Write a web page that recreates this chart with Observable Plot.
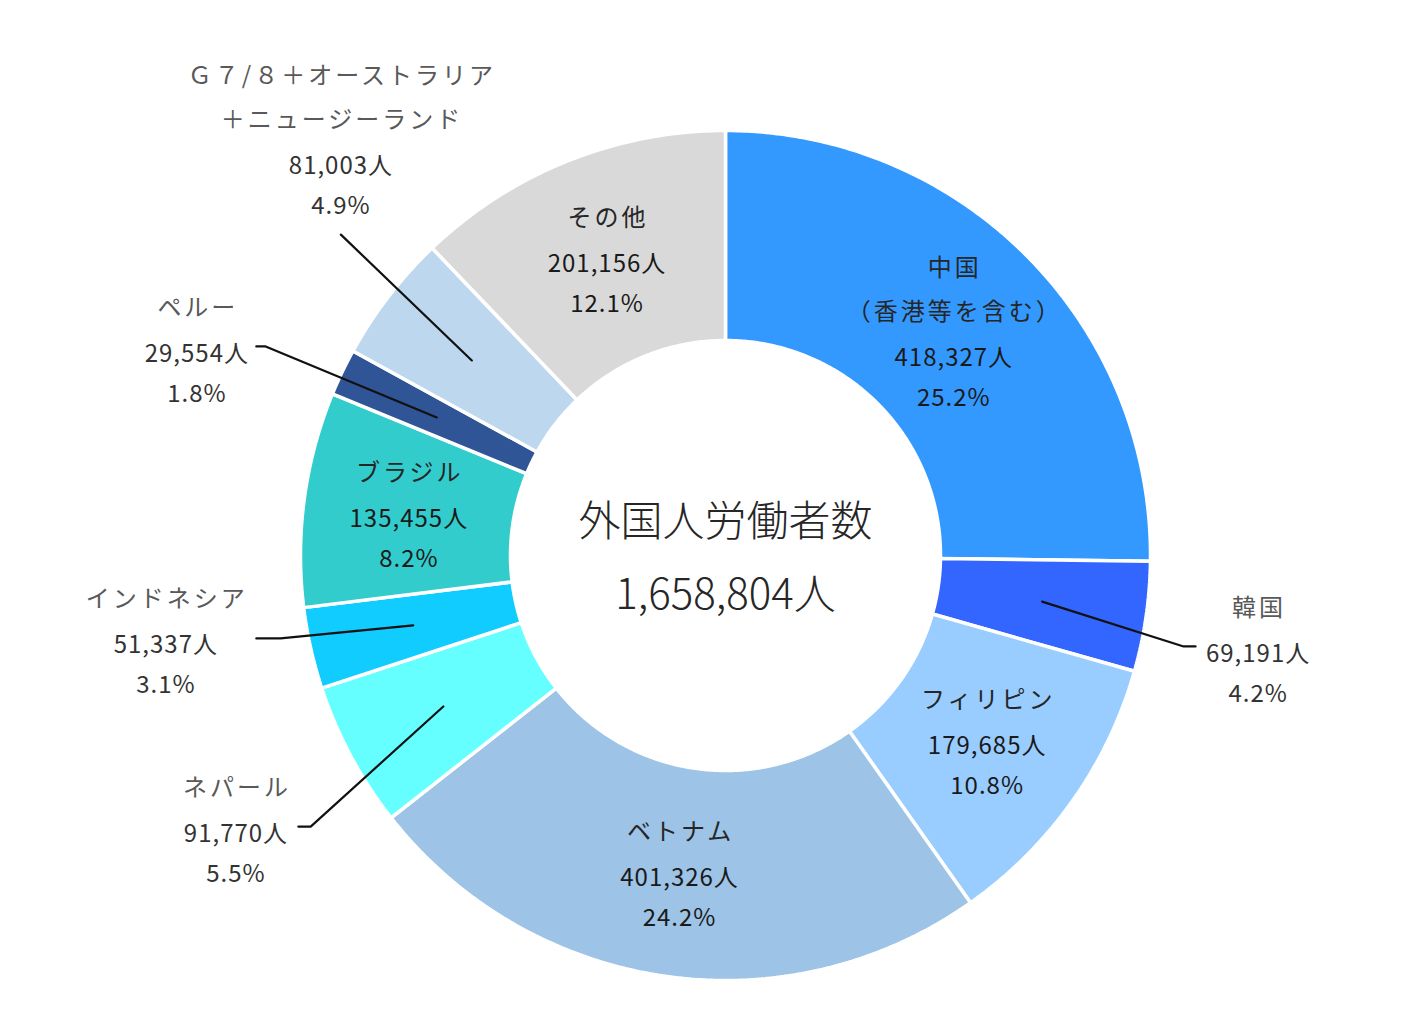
<!DOCTYPE html>
<html><head><meta charset="utf-8">
<script src="https://cdn.jsdelivr.net/npm/d3@7"></script>
<script src="https://cdn.jsdelivr.net/npm/@observablehq/plot@0.6"></script>
<style>
body{margin:0;background:#fff;}
#chart svg{display:block;}
</style>
</head><body><div id="chart"></div>
<script>
// ---- data ----
const categories = ["中国","韓国","フィリピン","ベトナム","ネパール","インドネシア","ブラジル","ペルー","G7/8+オーストラリア+ニュージーランド","その他"];
const labelNames = [["中国","（香港等を含む）"],["韓国"],["フィリピン"],["ベトナム"],["ネパール"],["インドネシア"],["ブラジル"],["ペルー"],["Ｇ７/８＋オーストラリア","＋ニュージーランド"],["その他"]];
const workers = [418327, 69191, 179685, 401326, 91770, 51337, 135455, 29554, 81003, 201156];
const shares = [25.2, 4.2, 10.8, 24.2, 5.5, 3.1, 8.2, 1.8, 4.9, 12.1];
const total = 1658804;
const centerTitle = "外国人労働者数";

// ---- styles / layout ----
const colors = ["#3399FF","#3366FF","#99CCFF","#9DC3E6","#66FFFF","#11CCFF","#33CCCC","#2F5597","#BDD7EE","#D9D9D9"];
// outside label layout (units of outer radius from centre, y up); leader elbow/end points
const outside = {
  "韓国":        {lx: 1.252, ly: -0.224, elbow: [1.078, -0.214], end: [1.106, -0.214]},
  "ネパール":    {lx: -1.153, ly: -0.647, elbow: [-0.976, -0.638], end: [-1.005, -0.638]},
  "インドネシア": {lx: -1.318, ly: -0.202, elbow: [-1.047, -0.195], end: [-1.104, -0.195]},
  "ペルー":      {lx: -1.245, ly: 0.482, elbow: [-1.082, 0.492], end: [-1.104, 0.492]},
  "G7/8+オーストラリア+ニュージーランド": {lx: -0.906, ly: 0.976, elbow: [-0.905, 0.755], end: [-0.905, 0.755]}
};

const W = 1410, H = 1024;
const cx = 725, cy = 555, R = 425;
const inner = 215 / R;
const midR = (1 + inner) / 2;
const gapName = 44, gapCount = 46, gapPct = 40; // px between label lines

const sum = d3.sum(workers);
let acc = 0;
const slices = categories.map((c, i) => {
  const a0 = acc / sum * 2 * Math.PI;
  acc += workers[i];
  const a1 = acc / sum * 2 * Math.PI;
  return {category: c, a0, a1, mid: (a0 + a1) / 2, i};
});

// polygon vertices for each slice (angle clockwise from top)
const arcPts = [];
for (const s of slices) {
  const n = Math.max(8, Math.ceil((s.a1 - s.a0) / (Math.PI / 360)));
  for (let k = 0; k <= n; k++) {
    const a = s.a0 + (s.a1 - s.a0) * k / n;
    arcPts.push({category: s.category, x: Math.sin(a), y: Math.cos(a)});
  }
  for (let k = n; k >= 0; k--) {
    const a = s.a0 + (s.a1 - s.a0) * k / n;
    arcPts.push({category: s.category, x: inner * Math.sin(a), y: inner * Math.cos(a)});
  }
  arcPts.push({category: s.category, x: Math.sin(s.a0), y: Math.cos(s.a0)});
}

const fmt = d3.format(",");
const nameRows = [], numRows = [], leaders = [];
for (const s of slices) {
  const names = labelNames[s.i];
  const px = midR * Math.sin(s.mid), py = midR * Math.cos(s.mid);
  const o = outside[s.category];
  const ax = o ? o.lx : px, ay = o ? o.ly : py;
  const side = o ? "out" : "in";
  const shift = o ? 1 : 3;
  // line offsets (px, downward) relative to first line
  const offs = names.map((_, j) => j * gapName);
  const cOff = offs[offs.length - 1] + gapCount;
  const pOff = cOff + gapPct;
  const centre = pOff / 2 - shift;
  names.forEach((t, j) => nameRows.push({x: ax, y: ay - (offs[j] - centre) / R, text: t, side}));
  numRows.push({x: ax, y: ay - (cOff - centre) / R, text: fmt(workers[s.i]) + "人", side});
  numRows.push({x: ax, y: ay - (pOff - centre) / R, text: shares[s.i].toFixed(1) + "%", side});
  if (o) {
    leaders.push({category: s.category, x: px, y: py});
    leaders.push({category: s.category, x: o.elbow[0], y: o.elbow[1]});
    leaders.push({category: s.category, x: o.end[0], y: o.end[1]});
  }
}

const font = "'Noto Sans CJK JP', 'Noto Sans', sans-serif";
const chart = Plot.plot({
  width: W, height: H,
  margin: 0,
  style: {fontFamily: font, background: "#fff"},
  x: {domain: [-cx / R, (W - cx) / R], axis: null},
  y: {domain: [-(H - cy) / R, cy / R], axis: null},
  color: {domain: categories, range: colors},
  marks: [
    Plot.line(arcPts, {x: "x", y: "y", z: "category", fill: "category", stroke: "white", strokeWidth: 3.5, strokeLinejoin: "miter", curve: "linear"}),
    Plot.line(leaders, {x: "x", y: "y", z: "category", stroke: "#111", strokeWidth: 2.2, strokeLinejoin: "miter"}),
    Plot.text(nameRows, {x: "x", y: "y", text: "text", fontSize: 24, dx: 1.5, lineAnchor: "middle", fill: d => d.side === "in" ? "#262626" : "#595959"}),
    Plot.text(numRows, {x: "x", y: "y", text: "text", fontSize: 24, dx: 0.5, lineAnchor: "middle", fill: d => d.side === "in" ? "#1a1a1a" : "#333333"}),
    Plot.text([centerTitle], {x: () => 0, y: () => 0.078, text: d => d, fontSize: 42, fill: "#262626", fontWeight: 300}),
    Plot.text([total], {x: () => 0, y: () => -0.094, text: d => fmt(d) + "人", fontSize: 42, fill: "#262626", fontWeight: 300})
  ]
});
// letter spacing for label marks (names wider, numbers slightly)
const textGroups = chart.querySelectorAll('g[aria-label="text"]');
if (textGroups[0]) textGroups[0].style.letterSpacing = "3px";
if (textGroups[1]) textGroups[1].style.letterSpacing = "1px";
document.getElementById("chart").appendChild(chart);
</script>
</body></html>
